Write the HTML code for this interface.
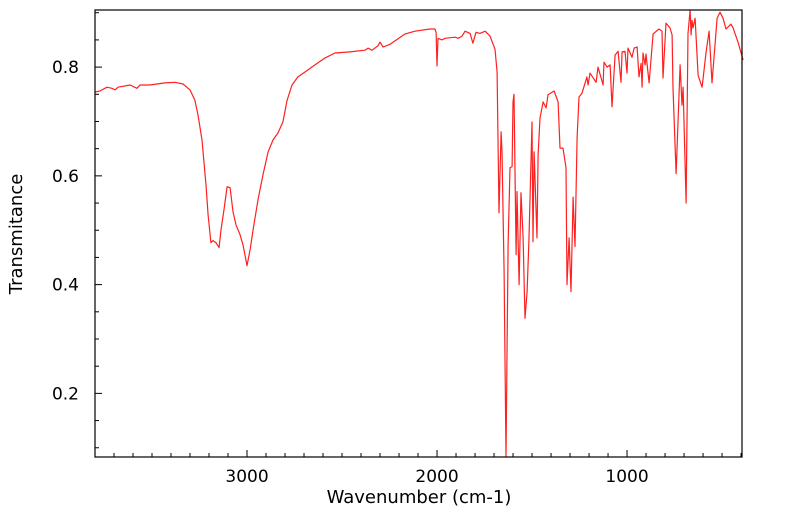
<!DOCTYPE html>
<html><head><meta charset="utf-8"><style>
html,body{margin:0;padding:0;background:#fff;}
svg{display:block;font-family:"DejaVu Sans","Liberation Sans",sans-serif;}
</style></head><body>
<svg id="chart" width="799" height="516" viewBox="0 0 799 516" xmlns="http://www.w3.org/2000/svg">
<rect x="95" y="10" width="647" height="447" fill="#fff" stroke="none"/>
<g id="ticks"></g>
<g id="labels"></g>
<path id="line" fill="none" stroke="#ff2020" stroke-width="1.2" stroke-linejoin="round"/>
<rect x="95" y="10" width="647" height="447" fill="none" stroke="#000" stroke-width="1.2"/>
<text x="419" y="503" font-size="18" text-anchor="middle">Wavenumber (cm-1)</text>
<text transform="translate(22,234) rotate(-90)" font-size="18" text-anchor="middle">Transmitance</text>
</svg>
<script>
const wavenumbers=[3800,3774,3737,3711,3695,3679,3616,3579,3563,3511,3432,3379,3337,3300,3274,3258,3237,3216,3205,3190,3179,3163,3147,3137,3121,3105,3089,3074,3058,3037,3021,3000,2984,2968,2942,2916,2889,2863,2837,2811,2789,2763,2732,2695,2642,2589,2537,2458,2379,2363,2342,2311,2300,2284,2247,2168,2116,2037,2011,2005,2000,1995,1974,1958,1905,1889,1868,1853,1826,1811,1795,1774,1747,1721,1695,1684,1674,1663,1658,1647,1637,1626,1616,1605,1600,1595,1584,1579,1568,1558,1547,1537,1526,1516,1500,1495,1489,1474,1468,1458,1442,1426,1416,1384,1363,1353,1337,1321,1316,1305,1295,1284,1274,1263,1253,1237,1211,1205,1195,1163,1153,1126,1121,1105,1089,1079,1063,1047,1032,1026,1011,1000,995,974,963,947,937,926,921,916,905,900,884,863,853,832,816,811,795,774,763,758,742,737,721,711,705,689,679,668,663,658,653,642,626,605,584,568,553,526,511,495,479,453,442,416,389];
const transmittance=[0.754,0.756,0.763,0.761,0.758,0.763,0.767,0.761,0.767,0.767,0.771,0.772,0.769,0.758,0.739,0.712,0.666,0.583,0.528,0.477,0.481,0.477,0.468,0.501,0.538,0.580,0.578,0.534,0.510,0.492,0.473,0.435,0.464,0.501,0.556,0.602,0.644,0.666,0.679,0.699,0.739,0.767,0.782,0.791,0.804,0.817,0.826,0.828,0.831,0.835,0.831,0.839,0.846,0.837,0.842,0.861,0.866,0.870,0.870,0.864,0.802,0.853,0.850,0.853,0.855,0.853,0.857,0.866,0.862,0.844,0.864,0.862,0.866,0.857,0.833,0.791,0.532,0.681,0.644,0.424,0.083,0.473,0.615,0.617,0.736,0.750,0.455,0.571,0.400,0.569,0.486,0.338,0.387,0.486,0.699,0.479,0.644,0.486,0.639,0.706,0.736,0.725,0.749,0.756,0.736,0.651,0.651,0.615,0.400,0.486,0.387,0.561,0.470,0.670,0.745,0.752,0.782,0.767,0.789,0.772,0.800,0.767,0.809,0.800,0.804,0.727,0.822,0.829,0.772,0.828,0.829,0.789,0.835,0.818,0.835,0.837,0.782,0.807,0.763,0.826,0.804,0.824,0.771,0.861,0.864,0.870,0.866,0.780,0.881,0.872,0.859,0.761,0.604,0.648,0.804,0.730,0.763,0.550,0.862,0.905,0.859,0.886,0.872,0.890,0.785,0.763,0.828,0.866,0.771,0.890,0.901,0.890,0.870,0.879,0.872,0.846,0.813];
const xTicks=[3000,2000,1000];
const yTicks=[0.2,0.4,0.6,0.8];
const L=95,R=742,T=10,B=457,W0=3800,W1=395,Y0=0.083,Y1=0.905;
const sx=w=>L+(W0-w)/(W0-W1)*(R-L);
const sy=v=>B-(v-Y0)/(Y1-Y0)*(B-T);
const NS="http://www.w3.org/2000/svg";
document.getElementById('line').setAttribute('d',wavenumbers.map((w,i)=>(i?'L':'M')+sx(w).toFixed(1)+' '+Math.max(T,Math.min(B+2,sy(transmittance[i]))).toFixed(1)).join(''));
const tg=document.getElementById('ticks'),lg=document.getElementById('labels');
function ln(x1,y1,x2,y2,name){const l=document.createElementNS(NS,'line');l.setAttribute('x1',x1);l.setAttribute('y1',y1);l.setAttribute('x2',x2);l.setAttribute('y2',y2);l.setAttribute('stroke','#000');l.setAttribute('stroke-width','1');


tg.appendChild(l);}
for(let w=3700;w>=400;w-=100){const x=sx(w);const maj=w%1000===0;ln(x,B,x,B-(maj?7:4),maj?'x-major-tick':'x-minor-tick');}
for(let k=2;k<=18;k++){const v=k*0.05;const y=sy(v);if(y<T||y>B)continue;const maj=k%4===0;ln(L,y,L+(maj?7:4),y,maj?'y-major-tick':'y-minor-tick');}
xTicks.forEach(w=>{const t=document.createElementNS(NS,'text');t.setAttribute('x',sx(w));t.setAttribute('y',482);t.setAttribute('font-size','17');t.setAttribute('text-anchor','middle');t.textContent=w;


lg.appendChild(t);});
yTicks.forEach(v=>{const t=document.createElementNS(NS,'text');t.setAttribute('x',79);t.setAttribute('y',sy(v)+6);t.setAttribute('font-size','17');t.setAttribute('text-anchor','end');t.textContent=v.toFixed(1);


lg.appendChild(t);});
</script>
</body></html>
